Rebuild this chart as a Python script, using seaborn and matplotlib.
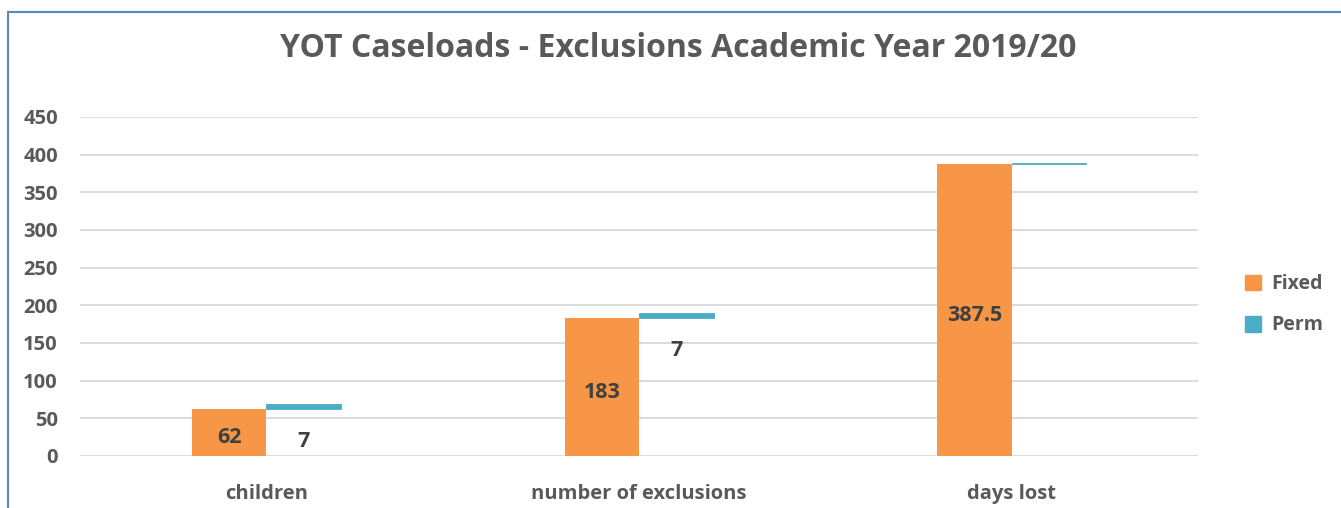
import numpy as np
import pandas as pd
import matplotlib as mpl
mpl.use('Agg')
import matplotlib.pyplot as plt
from matplotlib.patches import Rectangle
import seaborn as sns

categories = ['children', 'number of exclusions', 'days lost']
fixed = [62, 183, 387.5]
perm = [7, 7, 2]
perm_labels = ['7', '7', '']
series = ['Fixed', 'Perm']
colours = ['#F79646', '#4BACC6']
y_ticks = [0, 50, 100, 150, 200, 250, 300, 350, 400, 450]

sns.set_theme(style='white')
plt.rcParams['font.family'] = ['Open Sans', 'DejaVu Sans']
text_col = '#595959'

df = pd.DataFrame({
    'category': categories * 2,
    'series': [series[0]] * 3 + [series[1]] * 3,
    'value': fixed + perm,
})

fig = plt.figure(figsize=(13.41, 5.08), dpi=100)
ax = fig.add_axes([0.0597, 0.1024, 0.8337, 0.6673])

sns.barplot(data=df, x='category', y='value', hue='series', order=categories,
            hue_order=series, palette=colours, width=0.4, dodge=True,
            saturation=1, linewidth=0, ax=ax)

# perm sits on top of the fixed value, offset to the right (as in the source)
perm_bars = ax.containers[1]
for bar, base in zip(perm_bars, fixed):
    bar.set_y(base)
    bar.set_edgecolor(colours[1])
    bar.set_linewidth(0.6)

for bar, val in zip(ax.containers[0], fixed):
    ax.text(bar.get_x() + bar.get_width() / 2, val / 2 - 7,
            '{:g}'.format(val), ha='center', va='center',
            size=15.5, weight='bold', color='#404040')
for bar, base, lab in zip(perm_bars, fixed, perm_labels):
    ax.text(bar.get_x() + bar.get_width() / 2, base - 43, lab,
            ha='center', va='center', size=15.5, weight='bold',
            color='#404040')

ax.set_xlim(-0.5, 2.5)
ax.set_ylim(0, 450)
ax.set_yticks(y_ticks)
ax.yaxis.grid(True, color='#d9d9d9', linewidth=1.3)
ax.set_axisbelow(True)
for sp in ax.spines.values():
    sp.set_visible(False)
ax.set_xlabel('')
ax.set_ylabel('')
ax.tick_params(axis='y', length=0, pad=16, labelsize=14.5, labelcolor=text_col)
ax.tick_params(axis='x', length=0, pad=20, labelsize=14.5, labelcolor=text_col)
for lab in ax.get_xticklabels() + ax.get_yticklabels():
    lab.set_fontweight('bold')

handles = [Rectangle((0, 0), 1, 1, color=c) for c in colours]
leg = fig.legend(handles, series, loc='center left',
                 bbox_to_anchor=(0.915, 0.40), frameon=False,
                 handlelength=0.85, handleheight=0.85, handletextpad=0.55,
                 labelspacing=1.1, prop={'size': 14, 'weight': 'bold'})
for t in leg.get_texts():
    t.set_color(text_col)
if ax.get_legend() is not None:
    ax.get_legend().remove()

fig.text(0.506, 0.905, 'YOT Caseloads - Exclusions Academic Year 2019/20',
         ha='center', va='center', size=23, weight='bold', color=text_col)

# chart border, clipped by the image on the right and bottom
fig.patches.append(Rectangle((8 / 1341, -0.1), 1.2, (496 + 51) / 508,
                             transform=fig.transFigure, fill=False,
                             edgecolor='#5b87c7', linewidth=1.5))

fig.savefig('out.png', dpi=100)
